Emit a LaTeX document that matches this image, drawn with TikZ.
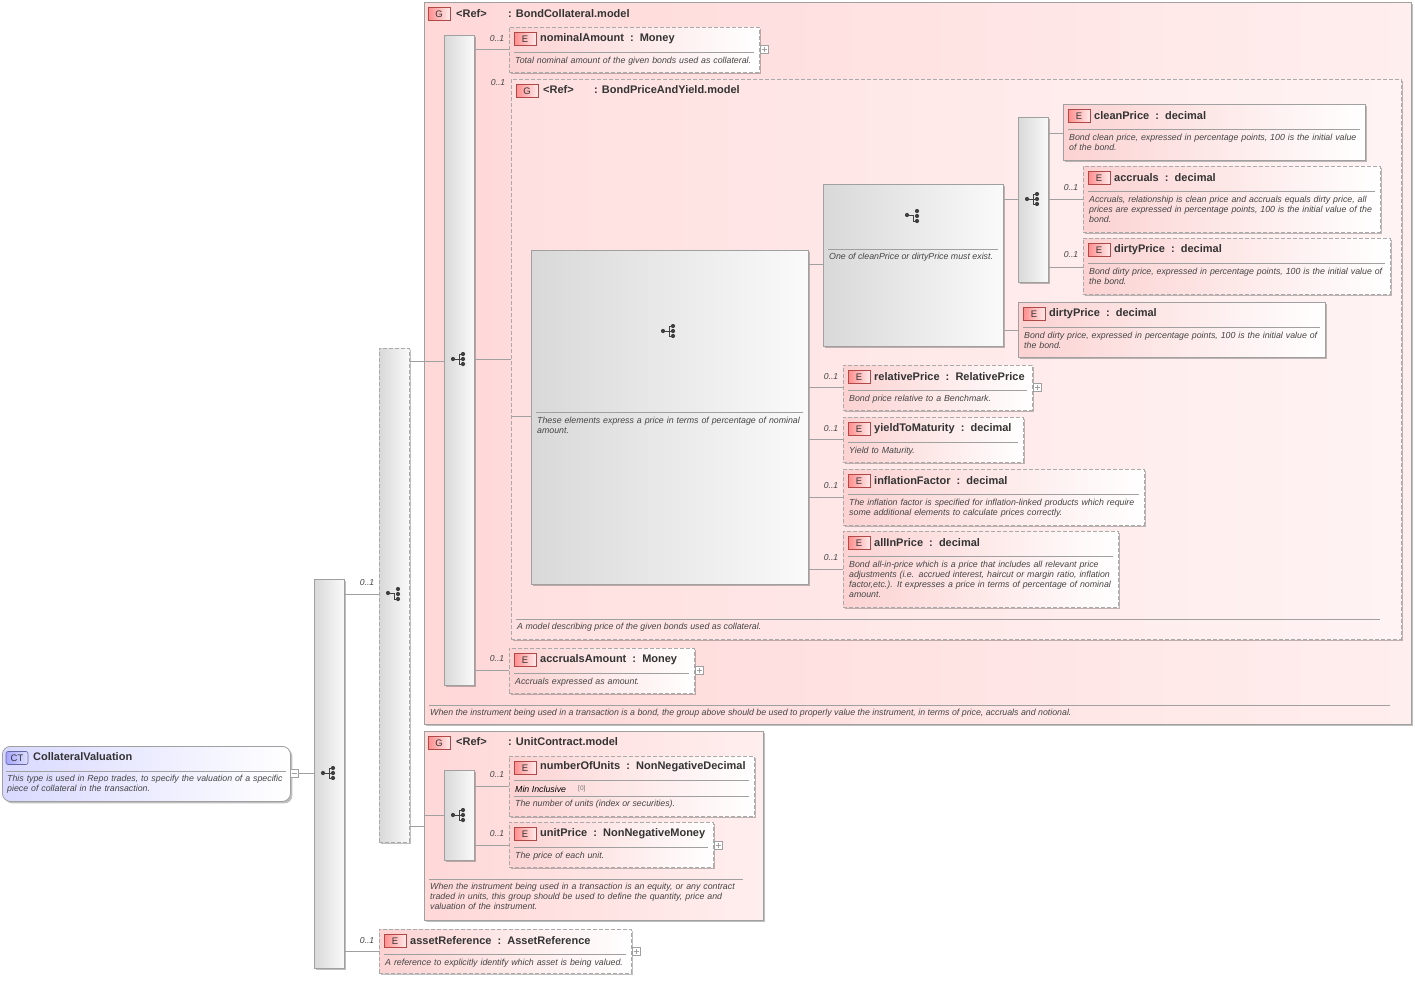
\documentclass[tikz,border=0pt]{standalone}
\usepackage{fontspec}
\setmainfont{Liberation Sans}
\usetikzlibrary{shadows}
\newcommand\nohy{\hyphenpenalty10000 \exhyphenpenalty10000 }
\definecolor{txt}{HTML}{333333}
\definecolor{dsc}{HTML}{444444}
\definecolor{ln}{HTML}{A0A0A0}
\definecolor{bdr}{HTML}{B04848}
\definecolor{pinkA}{HTML}{FCD2D2}
\definecolor{grpA}{HTML}{FFD8D8}
\definecolor{grpB}{HTML}{FFEEEE}
\tikzset{
 x=1pt,y=-1pt,
 shd/.style={drop shadow={shadow xshift=2pt,shadow yshift=-2pt,opacity=.25,fill=black}},
 box/.style={draw=ln,line width=.8pt,shd,inner sep=0,anchor=north west},
 dashedb/.style={dash pattern=on 4pt off 2pt,draw=ln!90},
 elbox/.style={box,left color=pinkA,right color=white},
 seqbox/.style={box,left color=black!15,right color=black!2},
 grpbox/.style={box,left color=grpA,right color=grpB},
 badge/.style={draw=bdr,line width=.6pt,left color=red!45,right color=red!8,minimum width=22pt,minimum height=13pt,inner sep=0,font=\fontsize{9.5}{9.5}\selectfont,text=txt},
 ttl/.style={anchor=west,inner sep=0,font=\fontsize{11}{12}\selectfont\bfseries,text=txt},
 desc/.style={anchor=north west,inner sep=0,align=left,font=\fontsize{8.8}{10}\selectfont\itshape\nohy,text=dsc},
 card/.style={inner sep=0,font=\fontsize{8.6}{9}\selectfont\itshape,text=dsc},
 sep/.style={draw=ln,line width=.6pt},
 con/.style={draw=ln,line width=.7pt},
 pm/.style={draw=ln,line width=.5pt,fill=white,minimum size=8pt,inner sep=0},
 pics/seqi/.style={code={
   \draw[line width=.9pt,black!75] (-6,0)--(0,0) (0,-5)--(0,5) (0,-5)--(4,-5) (0,0)--(4,0) (0,5)--(4,5);
   \fill[black!75] (-6,0) circle (2.1) (4,-5) circle (2.1) (4,0) circle (2.1) (4,5) circle (2.1);}},
 pics/chi/.style={code={
   \draw[line width=.9pt,black!75] (-6,-1)--(0,-1) (0,-1)--(0,5)--(4,5);
   \fill[black!75] (-6,-1) circle (2.1) (4,-5) circle (2.1) (4,0) circle (2.1) (4,5) circle (2.1);}},
}
% #1 name #2 style #3 x1 #4 y1 #5 x2 #6 y2 #7 title #8 desc
\newcommand\elem[8]{%
 \pgfmathsetlengthmacro\bw{(#5-#3)*1pt}\pgfmathsetlengthmacro\bh{(#6-#4)*1pt}%
 \pgfmathsetlengthmacro\tw{(#5-#3-9)*1pt}%
 \node[elbox,#2,minimum width=\bw,minimum height=\bh] (#1) at (#3,#4) {};
 \node[badge] (#1b) at (#3+16,#4+12) {E};
 \node[ttl] (#1t) at (#3+31,#4+11.5) {#7};
 \draw[sep] (#3+5,#4+25)--(#5-5,#4+25);
 \node[desc,text width=\tw] (#1d) at (#3+6,#4+30) {#8};}
\newcommand\plusbox[3]{\node[pm] (#1) at (#2,#3) {}; \draw[ln,line width=.5pt] (#2-2.5,#3)--(#2+2.5,#3) (#2,#3-2.5)--(#2,#3+2.5);}
\newcommand\cardl[3]{\node[card] (#1) at (#2,#3) {0..1};}
\begin{document}
\begin{tikzpicture}
\useasboundingbox (0,0) rectangle (1415,980);
\fill[white] (0,0) rectangle (1415,980);

% CT
\node[box,rounded corners=8pt,left color=blue!15,right color=white,minimum width=288pt,minimum height=55pt] (ct) at (2,746) {};
\node[draw=blue!40!black!60,line width=.6pt,rounded corners=2pt,left color=blue!35,right color=blue!12,minimum width=22pt,minimum height=13pt,inner sep=0,font=\fontsize{9.5}{9.5}\selectfont,text=txt] (ctb) at (17,758) {CT};
\node[ttl] (ctt) at (33,757) {CollateralValuation};
\draw[sep] (6,771)--(286,771);
\node[desc,text width=284pt] (ctd) at (7,775) {This type is used in Repo trades, to specify the valuation of a specific piece of collateral in the transaction.};
\node[pm] (ctm) at (294,773) {}; \draw[ln,line width=.5pt] (291.5,773)--(296.5,773);

% S1 sequence
\node[seqbox,minimum width=30pt,minimum height=389pt] (s1) at (314,579) {};
\pic at (329,773) {seqi};
\draw[con] (ctm.east) -- (s1.west |- ctm.east);

% C1 choice dashed
\node[seqbox,dashedb,minimum width=30pt,minimum height=494pt] (c1) at (379,348) {};
\pic at (394,594) {chi};
\draw[con] (s1.east |- 0,594) -- (c1.west |- 0,594);
\cardl{k1}{367}{583}

% Group BondCollateral
\node[grpbox,minimum width=987pt,minimum height=722pt] (g1) at (424,2) {};
\node[badge] (g1b) at (439,14) {G};
\node[ttl] (g1r) at (456,14) {<Ref>};
\node[ttl] (g1t) at (508,14) {: BondCollateral.model};
\draw[sep] (429,705)--(1390,705);
\node[desc] (g1d) at (430,709) {When the instrument being used in a transaction is a bond, the group above should be used to properly value the instrument, in terms of price, accruals and notional.};
\draw[con] (c1.east |- 0,361) -- (g1.west |- 0,361);

% S2
\node[seqbox,minimum width=30pt,minimum height=650pt] (s2) at (444,35) {};
\pic at (459,359) {seqi};
\draw[con] (g1.west |- 0,361) -- (s2.west |- 0,361);

\elem{nom}{dashedb}{509}{27}{759}{72}{nominalAmount\ \ :\ \ Money}{Total nominal amount of the given bonds used as collateral.}
\plusbox{nomp}{764}{49}
\draw[con] (s2.east |- 0,49) -- (nom.west |- 0,49);
\cardl{k2}{497}{39}

% Group BondPriceAndYield
\node[box,dashedb,left color=grpA!80!white,right color=grpB!70!white,minimum width=890pt,minimum height=560pt] (g2) at (511,79) {};
\node[badge] (g2b) at (527,91) {G};
\node[ttl] (g2r) at (543,90) {<Ref>};
\node[ttl] (g2t) at (594,90) {: BondPriceAndYield.model};
\draw[sep] (516,619)--(1380,619);
\node[desc] (g2d) at (517,623) {A model describing price of the given bonds used as collateral.};
\draw[con] (s2.east |- 0,359) -- (g2.west |- 0,359);
\cardl{k3}{498}{83}

% S3
\node[seqbox,minimum width=277pt,minimum height=334pt] (s3) at (531,250) {};
\pic at (669,331) {seqi};
\draw[sep] (536,412)--(803,412);
\node[desc,text width=268pt] (s3d) at (537,417) {These elements express a price in terms of percentage of nominal amount.};
\draw[con] (g2.west |- 0,416) -- (s3.west |- 0,416);

% C2
\node[seqbox,minimum width=180pt,minimum height=162pt] (c2) at (823,184) {};
\pic at (913,216) {chi};
\draw[sep] (828,249)--(998,249);
\node[desc] (c2d) at (829,253) {One of cleanPrice or dirtyPrice must exist.};
\draw[con] (s3.east |- 0,264) -- (c2.west |- 0,264);

% S4
\node[seqbox,minimum width=30pt,minimum height=165pt] (s4) at (1018,117) {};
\pic at (1033,199) {seqi};
\draw[con] (c2.east |- 0,199) -- (s4.west |- 0,199);

\elem{clp}{}{1063}{104}{1365}{160}{cleanPrice\ \ :\ \ decimal}{Bond clean price, expressed in percentage points, 100 is the initial value of the bond.}
\draw[con] (s4.east |- 0,133) -- (clp.west |- 0,133);

\elem{acc}{dashedb}{1083}{166}{1380}{232}{accruals\ \ :\ \ decimal}{Accruals, relationship is clean price and accruals equals dirty price, all prices are expressed in percentage points, 100 is the initial value of the bond.}
\draw[con] (s4.east |- 0,199) -- (acc.west |- 0,199);
\cardl{k4}{1071}{188}

\elem{dp1}{dashedb}{1083}{238}{1390}{294}{dirtyPrice\ \ :\ \ decimal}{Bond dirty price, expressed in percentage points, 100 is the initial value of the bond.}
\draw[con] (s4.east |- 0,267) -- (dp1.west |- 0,267);
\cardl{k5}{1071}{255}

\elem{dp2}{}{1018}{302}{1325}{357}{dirtyPrice\ \ :\ \ decimal}{Bond dirty price, expressed in percentage points, 100 is the initial value of the bond.}
\draw[con] (c2.east |- 0,330) -- (dp2.west |- 0,330);

\elem{rel}{dashedb}{843}{365}{1032}{410}{relativePrice\ \ :\ \ RelativePrice}{Bond price relative to a Benchmark.}
\plusbox{relp}{1037}{387}
\draw[con] (s3.east |- 0,387) -- (rel.west |- 0,387);
\cardl{k6}{831}{377}

\elem{ytm}{dashedb}{843}{417}{1023}{462}{yieldToMaturity\ \ :\ \ decimal}{Yield to Maturity.}
\draw[con] (s3.east |- 0,439) -- (ytm.west |- 0,439);
\cardl{k7}{831}{429}

\elem{inf}{dashedb}{843}{469}{1144}{525}{inflationFactor\ \ :\ \ decimal}{The inflation factor is specified for inflation-linked products which require some additional elements to calculate prices correctly.}
\draw[con] (s3.east |- 0,497) -- (inf.west |- 0,497);
\cardl{k8}{831}{486}

\elem{aip}{dashedb}{843}{531}{1118}{607}{allInPrice\ \ :\ \ decimal}{Bond all-in-price which is a price that includes all relevant price adjustments (i.e. accrued interest, haircut or margin ratio, inflation factor,etc.). It expresses a price in terms of percentage of nominal amount.}
\draw[con] (s3.east |- 0,569) -- (aip.west |- 0,569);
\cardl{k9}{831}{558}

\elem{acm}{dashedb}{509}{648}{694}{693}{accrualsAmount\ \ :\ \ Money}{Accruals expressed as amount.}
\plusbox{acmp}{699}{670}
\draw[con] (s2.east |- 0,670) -- (acm.west |- 0,670);
\cardl{k10}{497}{659}

% Group UnitContract
\node[grpbox,minimum width=339pt,minimum height=189pt] (g3) at (424,731) {};
\node[badge] (g3b) at (439,743) {G};
\node[ttl] (g3r) at (456,742) {<Ref>};
\node[ttl] (g3t) at (508,742) {: UnitContract.model};
\draw[sep] (429,879)--(743,879);
\node[desc,text width=312pt] (g3d) at (430,883) {When the instrument being used in a transaction is an equity, or any contract traded in units, this group should be used to define the quantity, price and valuation of the instrument.};
\draw[con] (c1.east |- 0,826) -- (g3.west |- 0,826);

\node[seqbox,minimum width=30pt,minimum height=90pt] (s5) at (444,770) {};
\pic at (459,815) {seqi};
\draw[con] (g3.west |- 0,815) -- (s5.west |- 0,815);

% numberOfUnits
\node[elbox,dashedb,minimum width=245pt,minimum height=60pt] (nou) at (509,756) {};
\node[badge] (noub) at (525,768) {E};
\node[ttl] (nout) at (540,767) {numberOfUnits\ \ :\ \ NonNegativeDecimal};
\draw[sep] (514,780)--(749,780);
\node[desc,text=black] (noum) at (515,786) {Min Inclusive};
\node[desc,font=\fontsize{6.5}{8}\selectfont,text=black!55] (noun) at (578,786) {[0]};
\draw[sep] (514,796)--(749,796);
\node[desc] (noud) at (515,800) {The number of units (index or securities).};
\draw[con] (s5.east |- 0,786) -- (nou.west |- 0,786);
\cardl{k11}{497}{775}

\elem{upr}{dashedb}{509}{822}{713}{867}{unitPrice\ \ :\ \ NonNegativeMoney}{The price of each unit.}
\plusbox{uprp}{718}{845}
\draw[con] (s5.east |- 0,845) -- (upr.west |- 0,845);
\cardl{k12}{497}{834}

\elem{ast}{dashedb}{379}{929}{631}{973}{assetReference\ \ :\ \ AssetReference}{A reference to explicitly identify which asset is being valued.}
\plusbox{astp}{636}{951}
\draw[con] (s1.east |- 0,951) -- (ast.west |- 0,951);
\cardl{k13}{367}{941}
\end{tikzpicture}
\end{document}
